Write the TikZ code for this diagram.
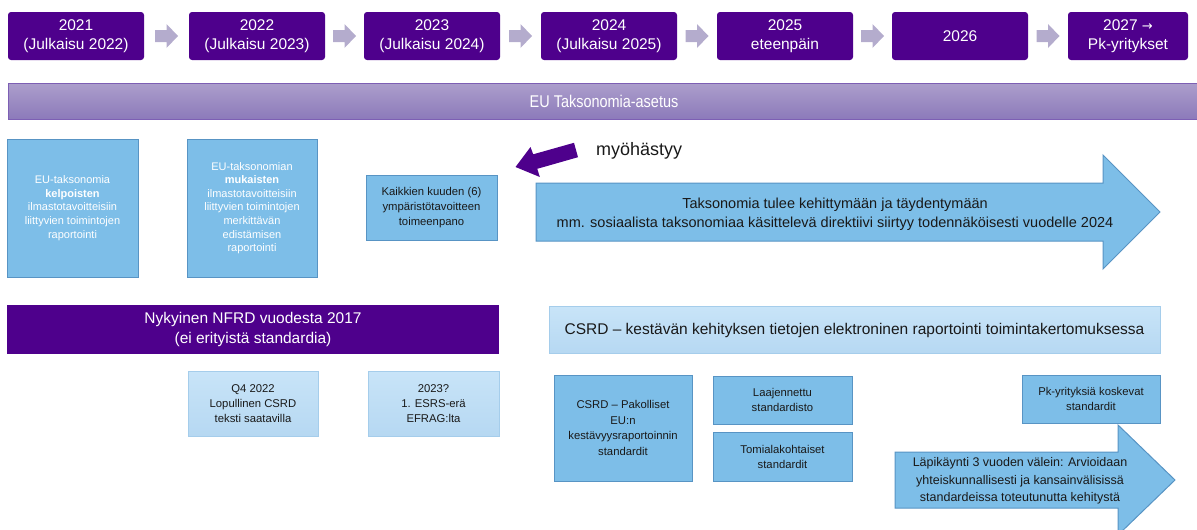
\documentclass[tikz,border=0pt]{standalone}
\usepackage{fontspec}
\setmainfont{Liberation Sans}
\newfontfamily\narrowfont[FakeStretch=0.85]{Liberation Sans}
\definecolor{purp}{RGB}{78,0,140}
\definecolor{greyarr}{RGB}{180,172,205}
\definecolor{boxblue}{RGB}{125,190,232}
\definecolor{boxedge}{RGB}{88,148,196}
\definecolor{lighttop}{RGB}{200,228,248}
\definecolor{lightbot}{RGB}{182,216,242}
\definecolor{lightblue}{RGB}{190,223,245}
\definecolor{lightedge}{RGB}{165,205,235}
\definecolor{eutop}{RGB}{172,158,204}
\definecolor{eubot}{RGB}{140,122,186}
\definecolor{euedge}{RGB}{125,95,180}
\definecolor{txt}{RGB}{25,25,25}
\tikzset{
  yearbox/.style={fill=purp, rounded corners=3, text=white, align=center, inner sep=0,
    minimum height=48, font=\fontsize{15.5}{18.5}\selectfont},
  purplebar/.style={fill=purp, text=white, align=center, inner sep=0, font=\fontsize{15.5}{20}\selectfont},
  eubar/.style={top color=eutop, bottom color=eubot, draw=euedge, line width=0.8, text=white,
    inner sep=0, font=\narrowfont\fontsize{17}{20}\selectfont},
  bluebox/.style={fill=boxblue, draw=boxedge, line width=1, align=center, inner sep=0},
  lightbox/.style={top color=lighttop, bottom color=lightbot, draw=lightedge, line width=1,
    align=center, inner sep=0, text=txt},
  whitetext/.style={text=white, font=\fontsize{11}{13.6}\selectfont},
  smalltext/.style={text=txt, font=\fontsize{11.3}{15}\selectfont},
  greyblock/.style={fill=greyarr},
  bigblock/.style={fill=boxblue, draw=boxedge, line width=1},
  purpleblock/.style={fill=purp},
  label/.style={inner sep=0, align=center, text=txt}
}
\begin{document}
\begin{tikzpicture}[x=1pt,y=-1pt]
\useasboundingbox (0,0) rectangle (1197,530);
\clip (0,0) rectangle (1197,530);
% year boxes
\node[yearbox, minimum width=136] (y1) at (76,36) {2021\\(Julkaisu 2022)};
\node[yearbox, minimum width=136] (y2) at (257,36) {2022\\(Julkaisu 2023)};
\node[yearbox, minimum width=136] (y3) at (432,36) {2023\\(Julkaisu 2024)};
\node[yearbox, minimum width=136] (y4) at (609,36) {2024\\(Julkaisu 2025)};
\node[yearbox, minimum width=136] (y5) at (785,36) {2025\\eteenpäin};
\node[yearbox, minimum width=136] (y6) at (960,36) {2026};
\node[yearbox, minimum width=120] (y7) at (1128,36) {2027 \fontspec{DejaVu Sans}\fontsize{13}{18.5}\selectfont→\\Pk-yritykset};
% grey arrows
\foreach \c in {166.5,344.5,520.5,697,872.5,1048}
  \fill[greyblock, shift={(\c,36)}] (-11.5,-6) -- (0,-6) -- (0,-12) -- (11.5,0) -- (0,12) -- (0,6) -- (-11.5,6) -- cycle;
% EU bar
\node[eubar, minimum width=1192, minimum height=36] (eu) at (604,101) {EU Taksonomia-asetus};
% left boxes
\node[bluebox, minimum width=131, minimum height=138, whitetext] (boxA) at (72.5,208)
  {EU-taksonomia\\\textbf{kelpoisten}\\ilmastotavoitteisiin\\liittyvien toimintojen\\raportointi};
\node[bluebox, minimum width=130, minimum height=138, whitetext] (boxB) at (252,208)
  {EU-taksonomian\\\textbf{mukaisten}\\ilmastotavoitteisiin\\liittyvien toimintojen\\merkittävän\\edistämisen\\raportointi};
\node[bluebox, minimum width=131, minimum height=65, smalltext] (boxC) at (431.5,207.5)
  {Kaikkien kuuden (6)\\ympäristötavoitteen\\toimeenpano};
% purple delay arrow
\fill[purpleblock] (574,142.8) -- (578,157.2) -- (537.3,168.8) -- (539.8,177) -- (515.5,167) -- (530.5,147) -- (533.2,154.3) -- cycle;
\node[label, anchor=west, font=\fontsize{18}{20}\selectfont] (delay) at (596,151) {myöhästyy};
% big taxonomy arrow
\filldraw[bigblock] (536,183) -- (1103,183) -- (1103,155) -- (1160,212) -- (1103,269) -- (1103,241) -- (536,241) -- cycle;
\node[label, font=\fontsize{14.5}{19.5}\selectfont] (taxtext) at (835,214)
  {Taksonomia tulee kehittymään ja täydentymään\\mm. sosiaalista taksonomiaa käsittelevä direktiivi siirtyy todennäköisesti vuodelle 2024};
% NFRD bar
\node[purplebar, minimum width=492, minimum height=49] (nfrd) at (253,329.5)
  {Nykyinen NFRD vuodesta 2017\\(ei erityistä standardia)};
% light boxes
\node[lightbox, minimum width=130, minimum height=65, smalltext] (q4) at (253,403.5)
  {Q4 2022\\Lopullinen CSRD\\teksti saatavilla};
\node[lightbox, minimum width=131, minimum height=65, smalltext] (esrs) at (433.5,403.5)
  {2023?\\1. ESRS-erä\\EFRAG:lta};
% CSRD bar
\node[lightbox, minimum width=611, minimum height=47, font=\fontsize{15.5}{18}\selectfont] (csrd) at (854.5,330)
  {CSRD – kestävän kehityksen tietojen elektroninen raportointi toimintakertomuksessa};
% CSRD boxes
\node[bluebox, minimum width=138, minimum height=106, smalltext, font=\fontsize{11.3}{15.5}\selectfont] (mand) at (623,428)
  {CSRD – Pakolliset\\EU:n\\kestävyysraportoinnin\\standardit};
\node[bluebox, minimum width=139, minimum height=48, smalltext] (ext) at (782.5,400)
  {Laajennettu\\standardisto};
\node[bluebox, minimum width=139, minimum height=49, smalltext] (sect) at (782.5,456.5)
  {Tomialakohtaiset\\standardit};
\node[bluebox, minimum width=138, minimum height=48, smalltext] (sme) at (1091,399)
  {Pk-yrityksiä koskevat\\standardit};
% review arrow
\filldraw[bigblock] (895,452) -- (1118,452) -- (1118,425) -- (1175,480) -- (1118,535) -- (1118,508) -- (895,508) -- cycle;
\node[label, font=\fontsize{12.5}{17.5}\selectfont] (review) at (1020,481)
  {Läpikäynti 3 vuoden välein: Arvioidaan\\yhteiskunnallisesti ja kansainvälisissä\\standardeissa toteutunutta kehitystä};
\end{tikzpicture}
\end{document}
